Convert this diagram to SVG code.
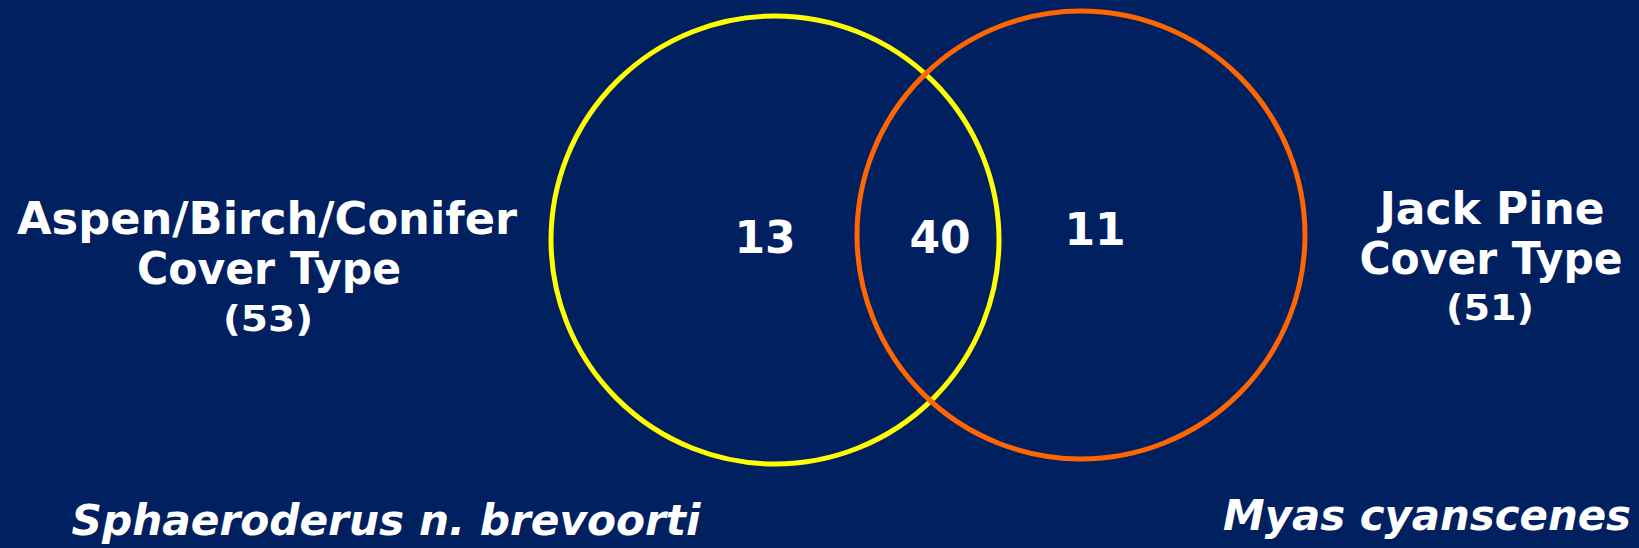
<svg xmlns="http://www.w3.org/2000/svg" width="1639" height="548" viewBox="0 0 1639 548">
<style>
text{font-family:"DejaVu Sans","Liberation Sans",sans-serif;font-weight:bold;fill:#fff;text-anchor:middle}
.big{font-size:44px}
.small{font-size:35px}
.it{font-size:43px;font-style:italic}
.ring{fill:none;stroke-width:5}
</style>
<rect width="1639" height="548" fill="#002060"/>
<g id="aspen-circle"><circle class="ring" cx="775" cy="240" r="224" stroke="#FFFF00"/></g>
<g id="jackpine-circle"><circle class="ring" cx="1081" cy="235" r="224" stroke="#FF6600"/></g>
<g id="connectors"></g>
<g id="aspen-label">
<text class="big" x="267" y="234" textLength="500" lengthAdjust="spacingAndGlyphs">Aspen/Birch/Conifer</text>
<text class="big" x="269" y="284" textLength="264" lengthAdjust="spacingAndGlyphs">Cover Type</text>
<text class="small" x="268" y="331" textLength="90" lengthAdjust="spacingAndGlyphs">(53)</text>
</g>
<g id="jackpine-label">
<text class="big" x="1492" y="224" textLength="225" lengthAdjust="spacingAndGlyphs">Jack Pine</text>
<text class="big" x="1491" y="274" textLength="263" lengthAdjust="spacingAndGlyphs">Cover Type</text>
<text class="small" x="1490" y="320" textLength="88" lengthAdjust="spacingAndGlyphs">(51)</text>
</g>
<g id="counts">
<text class="big" x="765" y="253">13</text>
<text class="big" x="940" y="253">40</text>
<text class="big" x="1095" y="245">11</text>
</g>
<g id="species-left"><text class="it" x="386" y="535" textLength="629" lengthAdjust="spacingAndGlyphs">Sphaeroderus n. brevoorti</text></g>
<g id="species-right"><text class="it" x="1427" y="530" textLength="408" lengthAdjust="spacingAndGlyphs">Myas cyanscenes</text></g>
</svg>
